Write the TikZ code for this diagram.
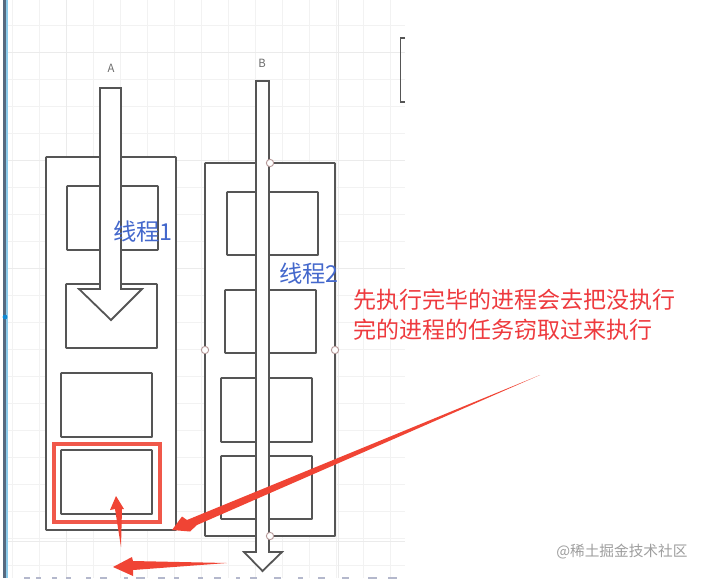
\documentclass[tikz,border=0pt]{standalone}
\usepackage{fontspec}
\setmainfont{Noto Sans CJK SC}
\newcommand{\rectnode}[5]{\node[procbox,minimum width=#4*0.75pt,minimum height=#5*0.75pt] (#1) at (#2,#3) {};}
\tikzset{
  x=0.75pt,y=-0.75pt,
  procbox/.style={draw=linegray,fill=white,line width=1.35pt,inner sep=0pt,outer sep=0pt,rounded corners=0.4pt},
  bigarrow/.style={draw=linegray,fill=white,line width=1.35pt,line join=miter},
  handle/.style={circle,draw=handlec,fill=white,line width=0.7pt,minimum size=5.5pt,inner sep=0pt},
  redtip/.style={fill=redarrow,draw=none},
  bluetxt/.style={text=bluetext,font=\fontsize{17.5}{20}\selectfont,inner sep=0pt,anchor=west},
  redtxt/.style={text=redtext,font=\fontsize{17.25}{20}\selectfont,inner sep=0pt,anchor=west},
  smalltxt/.style={text=gray!85!black,font=\fontsize{8.5}{10}\selectfont,inner sep=0pt},
  gridminor/.style={draw=black!5,line width=0.5pt},
  gridmajor/.style={draw=black!8,line width=0.6pt},
}
\definecolor{linegray}{HTML}{555555}
\definecolor{handlec}{HTML}{B89A9A}
\definecolor{redarrow}{HTML}{F04434}
\definecolor{redbox}{HTML}{F0584A}
\definecolor{redtext}{HTML}{EE3A3E}
\definecolor{bluetext}{HTML}{4468CC}
\definecolor{barc}{HTML}{566A80}
\definecolor{barl}{HTML}{8CCBEA}
\definecolor{clipc}{HTML}{B4B8CC}
\begin{document}
\begin{tikzpicture}
\path[use as bounding box,fill=white] (0,0) rectangle (705,578);
% grid
\foreach \gx in {12,39,66,93,120,147,174,201,228,255,282,309,336,363,390}
  \draw[gridminor] (\gx,0) -- (\gx,578);
\foreach \gy in {25,52,79,106,133,160,187,214,241,268,295,322,349,376,403,430,457,484,511,538,565}
  \draw[gridminor] (8,\gy) -- (405,\gy);
\draw[gridmajor] (66,0) -- (66,578) (338,0) -- (338,578) (8,52) -- (405,52) (8,160) -- (405,160) (8,268) -- (405,268) (8,541) -- (405,541);
% left bar
\fill[barl] (6,0) rectangle (7.5,578);
\fill[barc] (3,0) rectangle (6,578);
\fill[cyan!70!blue] (5,317) circle (2.4);
% bracket
\draw[linegray,line width=1.2pt] (405,38) -- (400.5,38) -- (400.5,102) -- (405,102);
% column A
\rectnode{outerA}{111}{343.5}{130}{373}
\rectnode{a1}{112.5}{218}{91}{64}
\rectnode{a2}{111.5}{316}{91}{64}
\rectnode{a3}{106.5}{405}{91}{64}
\rectnode{a4}{106.5}{482}{91}{64}
\node[draw=redbox,line width=2.3pt,inner sep=0pt,minimum width=106*0.75pt,minimum height=78*0.75pt] (redframe) at (107,483) {};
% column B
\rectnode{outerB}{270}{349.5}{130}{373}
\rectnode{b1}{272.5}{223.5}{91}{63}
\rectnode{b2}{270.5}{321.5}{91}{63}
\rectnode{b3}{266.5}{410}{91}{64}
\rectnode{b4}{266.5}{487.5}{91}{63}
% thread arrows
\draw[bigarrow] (100,88) -- (121,88) -- (121,289) -- (142,289) -- (111,320) -- (79,289) -- (100,289) -- cycle;
\draw[bigarrow] (256,81) -- (269,81) -- (269,552) -- (282,552) -- (262.5,571) -- (244,552) -- (256,552) -- cycle;
% handles
\node[handle] (h1) at (270,163) {};
\node[handle] (h2) at (270,536) {};
\node[handle] (h3) at (205,350) {};
\node[handle] (h4) at (335,350) {};
% labels
\node[smalltxt] (la) at (111,68) {A};
\node[smalltxt] (lb) at (262,63) {B};
\node[bluetxt] (t1) at (113,232) {线程1};
\node[bluetxt] (t2) at (279,274) {线程2};
\node[redtxt] (r1) at (353,300) {先执行完毕的进程会去把没执行};
\node[redtxt] (r2) at (353,330) {完的进程的任务窃取过来执行};
\node[text=black!38,font=\fontsize{11}{13}\selectfont,inner sep=0pt,anchor=west] (wm) at (556,552) {@稀土掘金技术社区};
% red arrows
\fill[redtip] (540,375) -- (197,525) -- (190,531.5) -- (172,530) -- (182,516.5) -- (187,520) -- cycle;
\fill[redtip] (121,547) -- (115,509) -- (110,510) -- (116,496) -- (124,509) -- (122,509) -- cycle;
\fill[redtip] (227,563) -- (133,561) -- (132,557) -- (113,567) -- (133,576) -- (133,570) -- cycle;
% clipped text row at the lower edge
\foreach \sa/\sb in {24/30,36/41,52/57,66/71,86/91,100/107,124/128,136/145,158/165,174/179,198/203,214/221,236/240,250/257,274/281,298/303,318/325,342/349,368/377,388/397}
  \draw[clipc,line width=0.9pt] (\sa,578) -- (\sb,578);
\end{tikzpicture}
\end{document}
